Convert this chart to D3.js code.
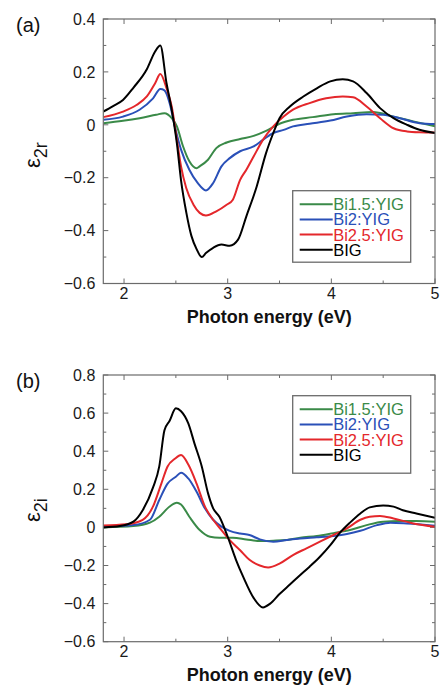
<!DOCTYPE html>
<html>
<head>
<meta charset="utf-8">
<script src="https://cdn.jsdelivr.net/npm/d3@7"></script>
<style>
body{margin:0;background:#fff;}
svg{display:block;font-family:"Liberation Sans",Arial,sans-serif;}
</style>
</head>
<body>
<svg id="c" width="441" height="685"></svg>
<script>
// ---------- DATA ----------
const seriesNames = ["Bi1.5:YIG", "Bi2:YIG", "Bi2.5:YIG", "BIG"];
const seriesColors = ["#3a8a48", "#2a50b8", "#e4272b", "#000000"];
const xTicks = [2, 3, 4, 5];
const yTicksA = [0.4, 0.2, 0, -0.2, -0.4, -0.6];
const yTicksB = [0.8, 0.6, 0.4, 0.2, 0, -0.2, -0.4, -0.6];

// panel (a): eps_2r  [energy eV, value]
const a_Bi15 = [[1.80,0.006],[1.99,0.015],[2.15,0.025],[2.31,0.038],[2.39,0.044],[2.46,0.025],[2.51,-0.006],[2.57,-0.082],[2.63,-0.138],[2.70,-0.164],[2.73,-0.157],[2.81,-0.132],[2.89,-0.088],[2.99,-0.067],[3.12,-0.054],[3.25,-0.042],[3.37,-0.023],[3.50,0.004],[3.63,0.019],[3.82,0.029],[4.02,0.040],[4.21,0.044],[4.40,0.048],[4.60,0.031],[4.79,0.013],[5.00,-0.006]];
const a_Bi2 = [[1.80,0.019],[1.99,0.031],[2.15,0.057],[2.28,0.100],[2.35,0.135],[2.39,0.130],[2.44,0.082],[2.49,-0.006],[2.55,-0.094],[2.63,-0.170],[2.71,-0.220],[2.79,-0.248],[2.86,-0.220],[2.94,-0.157],[3.02,-0.126],[3.12,-0.100],[3.25,-0.082],[3.34,-0.057],[3.44,-0.031],[3.54,-0.019],[3.63,-0.006],[3.79,0.004],[3.99,0.016],[4.15,0.031],[4.34,0.040],[4.50,0.038],[4.66,0.025],[4.85,0.006],[5.00,0.003]];
const a_Bi25 = [[1.80,0.029],[1.99,0.050],[2.12,0.075],[2.22,0.107],[2.30,0.157],[2.35,0.192],[2.41,0.138],[2.46,0.069],[2.51,-0.057],[2.55,-0.157],[2.60,-0.239],[2.67,-0.302],[2.73,-0.333],[2.79,-0.343],[2.89,-0.327],[2.99,-0.302],[3.05,-0.283],[3.12,-0.208],[3.18,-0.170],[3.25,-0.120],[3.34,-0.057],[3.44,-0.006],[3.54,0.031],[3.63,0.057],[3.79,0.082],[3.95,0.100],[4.11,0.107],[4.21,0.104],[4.34,0.069],[4.47,0.025],[4.60,-0.013],[4.73,-0.025],[4.85,-0.028],[5.00,-0.029]];
const a_BIG = [[1.80,0.050],[1.89,0.070],[1.99,0.094],[2.09,0.140],[2.22,0.210],[2.30,0.277],[2.35,0.300],[2.41,0.157],[2.46,0.057],[2.51,-0.070],[2.55,-0.210],[2.60,-0.330],[2.65,-0.420],[2.70,-0.470],[2.75,-0.500],[2.79,-0.485],[2.86,-0.465],[2.94,-0.453],[3.02,-0.457],[3.10,-0.434],[3.18,-0.346],[3.28,-0.233],[3.37,-0.107],[3.44,-0.031],[3.50,0.025],[3.60,0.069],[3.73,0.107],[3.86,0.138],[3.99,0.164],[4.11,0.172],[4.21,0.164],[4.34,0.120],[4.47,0.063],[4.60,0.025],[4.73,0.000],[4.85,-0.019],[5.00,-0.031]];

// panel (b): eps_2i
const b_Bi15 = [[1.80,0.000],[2.09,0.007],[2.25,0.025],[2.34,0.056],[2.44,0.110],[2.51,0.130],[2.55,0.120],[2.63,0.056],[2.73,-0.014],[2.83,-0.049],[2.92,-0.054],[3.05,-0.054],[3.18,-0.063],[3.31,-0.072],[3.44,-0.070],[3.57,-0.066],[3.70,-0.054],[3.86,-0.045],[4.02,-0.030],[4.18,-0.014],[4.34,0.012],[4.50,0.030],[4.66,0.033],[4.82,0.033],[5.00,0.030]];
const b_Bi2 = [[1.80,0.004],[2.09,0.012],[2.25,0.040],[2.34,0.144],[2.42,0.230],[2.50,0.266],[2.55,0.287],[2.62,0.257],[2.70,0.187],[2.78,0.100],[2.86,0.040],[2.94,0.004],[3.02,-0.018],[3.12,-0.032],[3.21,-0.040],[3.31,-0.063],[3.44,-0.075],[3.57,-0.066],[3.70,-0.058],[3.86,-0.052],[4.02,-0.045],[4.15,-0.035],[4.28,-0.018],[4.44,0.012],[4.57,0.025],[4.73,0.021],[5.00,0.009]];
const b_Bi25 = [[1.80,0.010],[2.02,0.016],[2.18,0.040],[2.28,0.110],[2.36,0.230],[2.42,0.320],[2.49,0.360],[2.55,0.380],[2.62,0.330],[2.70,0.230],[2.78,0.110],[2.86,0.040],[2.94,-0.014],[3.02,-0.067],[3.12,-0.120],[3.21,-0.170],[3.31,-0.200],[3.39,-0.210],[3.50,-0.190],[3.63,-0.145],[3.76,-0.110],[3.89,-0.075],[4.02,-0.040],[4.15,-0.005],[4.28,0.040],[4.37,0.056],[4.47,0.060],[4.60,0.047],[4.79,0.021],[5.00,0.004]];
const b_BIG = [[1.80,0.000],[1.96,0.007],[2.09,0.030],[2.18,0.090],[2.28,0.210],[2.34,0.320],[2.39,0.510],[2.44,0.560],[2.50,0.625],[2.55,0.610],[2.62,0.546],[2.68,0.440],[2.75,0.320],[2.81,0.180],[2.86,0.100],[2.92,0.056],[3.00,-0.049],[3.08,-0.170],[3.15,-0.260],[3.25,-0.370],[3.34,-0.420],[3.41,-0.400],[3.50,-0.350],[3.60,-0.300],[3.70,-0.250],[3.79,-0.206],[3.89,-0.154],[3.99,-0.093],[4.08,-0.030],[4.18,0.025],[4.28,0.073],[4.37,0.105],[4.50,0.115],[4.60,0.109],[4.69,0.090],[4.82,0.073],[5.00,0.050]];

const panelA = [a_Bi15, a_Bi2, a_Bi25, a_BIG];
const panelB = [b_Bi15, b_Bi2, b_Bi25, b_BIG];

// ---------- DRAW ----------
const svg = d3.select("#c");
const frameColor = "#6b6b6b";

function drawPanel(cfg){
  const g = svg.append("g");
  const x = d3.scaleLinear().domain([1.8,5]).range([cfg.left, cfg.right]);
  const y = d3.scaleLinear().domain(cfg.yDomain).range([cfg.bottom, cfg.top]);

  // clip
  const clipId = "clip" + cfg.label;
  svg.append("clipPath").attr("id", clipId).append("rect")
    .attr("x", cfg.left).attr("y", cfg.top)
    .attr("width", cfg.right-cfg.left).attr("height", cfg.bottom-cfg.top);

  // ticks (inside, all four sides)
  const xMinor = d3.range(2.5, 5, 1);
  const yMinor = d3.range(cfg.yDomain[0]+0.1, cfg.yDomain[1], 0.2).map(v=>+v.toFixed(2));
  const tg = g.append("g").attr("stroke", frameColor).attr("stroke-width", 1);
  xTicks.forEach(t=>{
    tg.append("line").attr("x1",x(t)).attr("x2",x(t)).attr("y1",cfg.bottom).attr("y2",cfg.bottom-5);
    tg.append("line").attr("x1",x(t)).attr("x2",x(t)).attr("y1",cfg.top).attr("y2",cfg.top+5);
  });
  xMinor.forEach(t=>{
    tg.append("line").attr("x1",x(t)).attr("x2",x(t)).attr("y1",cfg.bottom).attr("y2",cfg.bottom-3);
    tg.append("line").attr("x1",x(t)).attr("x2",x(t)).attr("y1",cfg.top).attr("y2",cfg.top+3);
  });
  cfg.yTicks.forEach(t=>{
    tg.append("line").attr("x1",cfg.left).attr("x2",cfg.left+5).attr("y1",y(t)).attr("y2",y(t));
    tg.append("line").attr("x1",cfg.right).attr("x2",cfg.right-5).attr("y1",y(t)).attr("y2",y(t));
  });
  yMinor.forEach(t=>{
    tg.append("line").attr("x1",cfg.left).attr("x2",cfg.left+3).attr("y1",y(t)).attr("y2",y(t));
    tg.append("line").attr("x1",cfg.right).attr("x2",cfg.right-3).attr("y1",y(t)).attr("y2",y(t));
  });

  // tick labels
  xTicks.forEach(t=>{
    g.append("text").attr("x",x(t)).attr("y",cfg.bottom+15).attr("text-anchor","middle")
      .attr("font-size",16).attr("fill","#1a1a1a").text(d3.format("d")(t));
  });
  cfg.yTicks.forEach(t=>{
    g.append("text").attr("x",cfg.left-8).attr("y",y(t)).attr("dy","0.36em").attr("text-anchor","end")
      .attr("font-size",16).attr("fill","#1a1a1a").text(t===0?"0":d3.format(".1f")(t));
  });

  // curves
  const line = d3.line().x(d=>x(d[0])).y(d=>y(d[1])).curve(d3.curveMonotoneX);
  const cg = g.append("g").attr("clip-path","url(#"+clipId+")");
  cfg.data.forEach((s,i)=>{
    cg.append("path").datum(s).attr("d",line).attr("fill","none")
      .attr("stroke",seriesColors[i]).attr("stroke-width",2).attr("stroke-linejoin","round");
  });

  // frame
  g.append("rect").attr("x",cfg.left).attr("y",cfg.top)
    .attr("width",cfg.right-cfg.left).attr("height",cfg.bottom-cfg.top)
    .attr("fill","none").attr("stroke",frameColor).attr("stroke-width",1.2);

  // x title
  g.append("text").attr("x",(cfg.left+cfg.right)/2).attr("y",cfg.bottom+39)
    .attr("text-anchor","middle").attr("font-size",18).attr("font-weight","bold")
    .attr("fill","#111").text("Photon energy (eV)");

  // y title: epsilon with subscript, rotated
  const yt = g.append("text").attr("transform","translate(40,"+cfg.yLabelY+") rotate(-90)")
    .attr("fill","#111");
  yt.append("tspan").attr("font-size",22).text("ε");
  yt.append("tspan").attr("font-size",18).attr("dy",7).text(cfg.sub);

  // panel label
  g.append("text").attr("x",16).attr("y",cfg.top+13).attr("font-size",20).attr("fill","#111").text("("+cfg.label+")");

  // legend
  const lg = g.append("g");
  lg.append("rect").attr("x",cfg.legX).attr("y",cfg.legY).attr("width",118).attr("height",cfg.legH)
    .attr("fill","#fff").attr("stroke",frameColor).attr("stroke-width",1.3);
  seriesNames.forEach((n,i)=>{
    const cy = cfg.legY + 13.5 + i*15.2;
    lg.append("line").attr("x1",cfg.legX+7).attr("x2",cfg.legX+40).attr("y1",cy).attr("y2",cy)
      .attr("stroke",seriesColors[i]).attr("stroke-width",2);
    lg.append("text").attr("x",cfg.legX+40.5).attr("y",cy).attr("dy","0.36em")
      .attr("font-size",16.5).attr("fill",seriesColors[i]).text(n);
  });
}

drawPanel({label:"a", left:103.3, right:435, top:19, bottom:283.5, yDomain:[-0.6,0.4], yTicks:yTicksA,
  data:panelA, sub:"2r", yLabelY:168, legX:292.7, legY:190.7, legH:71.5});
drawPanel({label:"b", left:103.3, right:435, top:375, bottom:641.7, yDomain:[-0.6,0.8], yTicks:yTicksB,
  data:panelB, sub:"2i", yLabelY:522, legX:292.7, legY:395.7, legH:77.5});
</script>
</body>
</html>
